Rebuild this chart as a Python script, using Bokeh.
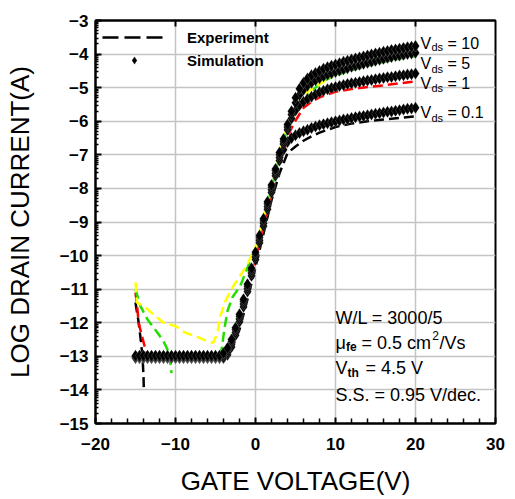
import math
from bokeh.plotting import figure
from bokeh.models import (FixedTicker, LinearAxis, Legend, LegendItem, Range1d)
from bokeh.core.properties import value
from bokeh.embed import file_html
from bokeh.resources import INLINE

NaN = float("nan")

# ---------------- data ----------------
vg = [-15, -14.5, -14, -13.5, -13, -12.5, -12, -11.5, -11, -10.5,
      -10, -9.5, -9, -8.5, -8, -7.5, -7, -6.5, -6, -5.5,
      -5, -4.5, -4, -3.5, -3, -2.5, -2, -1.5, -1, -0.5,
      0, 0.5, 1, 1.5, 2, 2.5, 3, 3.5, 4, 4.5,
      5, 5.5, 6, 6.5, 7, 7.5, 8, 8.5, 9, 9.5,
      10, 10.5, 11, 11.5, 12, 12.5, 13, 13.5, 14, 14.5,
      15, 15.5, 16, 16.5, 17, 17.5, 18, 18.5, 19, 19.5,
      20]

sim_vds01 = [-13.05, -13.05, -13.05, -13.05, -13.05, -13.05, -13.05, -13.05, -13.05, -13.05,
             -13.05, -13.05, -13.05, -13.05, -13.05, -13.05, -13.05, -13.05, -13.05, -13.05,
             -13.05, -13.05, -13.05, -12.95, -12.72, -12.37, -11.97, -11.52, -11.07, -10.6,
             -10.12, -9.62, -9.12, -8.62, -8.12, -7.62, -7.17, -6.85, -6.62, -6.5,
             -6.42, -6.35, -6.3, -6.25, -6.2, -6.16, -6.12, -6.09, -6.06, -6.03,
             -6.0, -5.98, -5.95, -5.93, -5.9, -5.88, -5.86, -5.84, -5.82, -5.8,
             -5.78, -5.76, -5.74, -5.72, -5.71, -5.69, -5.67, -5.65, -5.63, -5.62,
             -5.6]

sim_vds1 = [-13.02, -13.02, -13.02, -13.02, -13.02, -13.02, -13.02, -13.02, -13.02, -13.02,
            -13.02, -13.02, -13.02, -13.02, -13.02, -13.02, -13.02, -13.02, -13.02, -13.02,
            -13.02, -13.02, -13.02, -12.89, -12.64, -12.29, -11.89, -11.44, -10.99, -10.52,
            -10.04, -9.54, -9.04, -8.54, -8.04, -7.55, -7.08, -6.68, -6.25, -5.92,
            -5.68, -5.52, -5.42, -5.34, -5.27, -5.2, -5.14, -5.09, -5.05, -5.01,
            -4.98, -4.95, -4.92, -4.89, -4.87, -4.85, -4.83, -4.81, -4.79, -4.77,
            -4.75, -4.73, -4.71, -4.69, -4.68, -4.66, -4.64, -4.63, -4.61, -4.6,
            -4.58]

sim_vds5 = [-13.0, -13.0, -13.0, -13.0, -13.0, -13.0, -13.0, -13.0, -13.0, -13.0,
            -13.0, -13.0, -13.0, -13.0, -13.0, -13.0, -13.0, -13.0, -13.0, -13.0,
            -13.0, -13.0, -12.95, -12.81, -12.56, -12.21, -11.81, -11.36, -10.91, -10.44,
            -9.96, -9.46, -8.96, -8.46, -7.96, -7.47, -7.0, -6.6, -6.17, -5.8,
            -5.45, -5.22, -5.06, -4.94, -4.85, -4.78, -4.72, -4.66, -4.61, -4.57,
            -4.53, -4.49, -4.45, -4.42, -4.38, -4.35, -4.32, -4.29, -4.26, -4.23,
            -4.2, -4.17, -4.14, -4.11, -4.09, -4.06, -4.04, -4.02, -4.0, -3.98,
            -3.96]

sim_vds10 = [-12.98, -12.98, -12.98, -12.98, -12.98, -12.98, -12.98, -12.98, -12.98, -12.98,
             -12.98, -12.98, -12.98, -12.98, -12.98, -12.98, -12.98, -12.98, -12.98, -12.98,
             -12.98, -12.98, -12.9, -12.75, -12.5, -12.15, -11.75, -11.3, -10.85, -10.38,
             -9.9, -9.4, -8.9, -8.4, -7.9, -7.42, -6.93, -6.53, -6.1, -5.7,
             -5.3, -5.03, -4.85, -4.73, -4.63, -4.56, -4.5, -4.44, -4.39, -4.35,
             -4.31, -4.27, -4.23, -4.2, -4.16, -4.13, -4.1, -4.07, -4.04, -4.01,
             -3.98, -3.96, -3.93, -3.91, -3.88, -3.86, -3.84, -3.82, -3.8, -3.78,
             -3.76]

exp01_vg = [-15, -14.6, -14.3, -14.1, -14.0, -13.95, NaN, -13.9, -12, -10, -8, -6, -4.5,
            -4, -3, -2, -1, 0, 1, 2, 3, 3.5, 4, 5, 6, 7, 8, 10, 12, 14, 16, 18, 20]
exp_vds01 = [-11.4, -12.0, -12.6, -13.1, -13.6, -14.05, NaN, -13.1, -13.1, -13.1, -13.1, -13.1, -13.1,
             -13.05, -12.8, -12.2, -11.3, -10.35, -9.35, -8.35, -7.55, -7.25, -6.95, -6.75, -6.58,
             -6.45, -6.34, -6.17, -6.07, -6.0, -5.95, -5.9, -5.85]

exp1_vg = [-15, -14.8, -14.6, -14.2, -13.8, -13.7, -13.5, -10, -6, -4, -3, -2, -1, 0, 1,
           2, 3, 3.8, 4.3, 5, 6, 7, 8, 9, 10, 12, 14, 16, 18, 20]
exp_vds1 = [-11.1, -11.5, -12.0, -12.4, -12.75, -13.0, -13.05, -13.05, -13.05, -13.0, -12.7,
            -12.0, -11.1, -10.15, -9.15, -8.2, -7.3, -6.7, -6.3, -5.98, -5.6, -5.42, -5.29,
            -5.2, -5.12, -5.04, -4.98, -4.93, -4.87, -4.81]

exp5_vg = [-15, -14.4, -13.5, -12.25, -11.5, -11.0, -10.7, -10.5, NaN,
           -4.5, -4.2, -3.9, -3.5, -2.9, -1.9, -0.9, 0, 1, 2, 3, 4, 4.6, 5.5, 6.5, 7.5,
           8.5, 10, 12, 14, 16, 18, 20]
exp_vds5 = [-11.0, -11.5, -11.9, -12.3, -12.55, -12.8, -13.1, -13.5, NaN,
            -13.0, -12.75, -12.2, -11.65, -11.25, -10.9, -10.3, -9.8, -8.95, -8.0, -7.05,
            -6.2, -5.9, -5.58, -5.25, -5.0, -4.8, -4.64, -4.48, -4.35, -4.24, -4.14, -4.06]

exp10_vg = [-15, -14.8, -14, -12.5, -11.5, -10, -8.75, -7.5, -6, -5.3, -4.75, -4.4, -3.75,
            -2.75, -1.5, -0.9, 0, 1, 2, 3, 4, 5, 6, 6.5, 7, 7.5, 8, 9, 10, 12, 14, 16, 18, 20]
exp_vds10 = [-10.8, -11.4, -11.5, -11.8, -12.0, -12.1, -12.3, -12.4, -12.55, -12.6, -12.3,
             -11.8, -11.35, -10.9, -10.45, -10.2, -9.75, -8.85, -7.9, -6.95, -6.15, -5.6,
             -5.22, -5.12, -5.05, -4.98, -4.9, -4.75, -4.6, -4.4, -4.22, -4.08, -3.95, -3.85]

x_ticks = [-20, -10, 0, 10, 20, 30]
x_minor = [-18, -16, -14, -12, -8, -6, -4, -2, 2, 4, 6, 8, 12, 14, 16, 18, 22, 24, 26, 28]
y_ticks = [-15, -14, -13, -12, -11, -10, -9, -8, -7, -6, -5, -4, -3]
top_ticks = [-10, 0, 10, 20]

vds_values = ["= 10", "= 5", "= 1", "= 0.1"]
vds_label_y = [-3.685, -4.28, -4.875, -5.74]
vds_sub_y = [-3.80, -4.43, -5.02, -5.89]

exp_colors = ["black", "red", "#22dd00", "#ffff00"]

FONT = "Liberation Sans"

# ---------------- figure ----------------
p = figure(width=515, height=499, output_backend="svg", toolbar_location=None,
           x_range=Range1d(-20, 30), y_range=Range1d(-15, -3),
           min_border_left=95, min_border_right=20, min_border_top=20,
           min_border_bottom=76, x_axis_location=None, y_axis_location=None)
p.background_fill_color = "white"
p.border_fill_color = "white"
p.outline_line_color = "black"
p.outline_line_width = 2

p.xgrid.ticker = FixedTicker(ticks=top_ticks)
p.ygrid.ticker = FixedTicker(ticks=y_ticks)
for g in (p.xgrid, p.ygrid):
    g.grid_line_color = "#c4c4c4"
    g.grid_line_width = 1.5

minor_log = [d + math.log10(k) for d in range(-15, -3) for k in range(2, 10)]

left = LinearAxis(ticker=FixedTicker(ticks=y_ticks, minor_ticks=minor_log),
                  axis_label="LOG DRAIN CURRENT(A)")
bottom = LinearAxis(ticker=FixedTicker(ticks=x_ticks, minor_ticks=x_minor),
                    axis_label="GATE VOLTAGE(V)")
top = LinearAxis(ticker=FixedTicker(ticks=top_ticks),
                 major_label_overrides={t: "" for t in top_ticks})

for ax in (left, bottom, top):
    ax.axis_line_color = "black"
    ax.axis_line_width = 2
    ax.major_tick_line_color = "black"
    ax.major_tick_line_width = 2
    ax.minor_tick_line_color = "black"
    ax.minor_tick_line_width = 1.5
    ax.major_tick_in = 6
    ax.major_tick_out = 0
    ax.minor_tick_in = 3
    ax.minor_tick_out = 0
    ax.major_label_text_font = FONT
    ax.major_label_text_font_style = "bold"
    ax.major_label_text_font_size = "17px"
    ax.major_label_text_color = "black"
    ax.axis_label_text_font = FONT
    ax.axis_label_text_font_style = "normal"
    ax.axis_label_text_font_size = "26px"
    ax.axis_label_text_color = "black"

bottom.minor_tick_in = 5
left.major_label_standoff = 7
left.axis_label_standoff = 22
bottom.major_label_standoff = 14
bottom.axis_label_standoff = 13
top.minor_tick_line_color = None
top.major_label_standoff = 0

p.add_layout(left, "left")
p.add_layout(bottom, "below")
p.add_layout(top, "above")

# ---------------- experiment (dashed) ----------------
exp_sets = [(exp01_vg, exp_vds01), (exp1_vg, exp_vds1), (exp5_vg, exp_vds5), (exp10_vg, exp_vds10)]
exp_renderers = []
for (xs, ys), col in zip(exp_sets, exp_colors):
    exp_renderers.append(p.line(x=xs, y=ys, line_color=col, line_width=2.5, line_dash="10 5"))

# ---------------- simulation (diamonds) ----------------
sim_renderers = []
for ys in (sim_vds01, sim_vds1, sim_vds5, sim_vds10):
    sim_renderers.append(p.scatter(x=vg, y=ys, marker="diamond", size=12, fill_color="black",
                                   line_color="white", line_alpha=0.45, line_width=0.4))

# legend-only swatch (no data drawn)
legend_dash = p.line(x=[NaN], y=[NaN], line_color="black", line_width=2.5, line_dash="16 6")

# ---------------- legend ----------------
legend = Legend(items=[LegendItem(label="Experiment", renderers=[legend_dash]),
                       LegendItem(label="Simulation", renderers=[sim_renderers[0]])],
                location="top_left", margin=7, padding=8, glyph_width=64, glyph_height=20,
                label_height=20, spacing=3, label_standoff=21,
                background_fill_alpha=0, border_line_color=None,
                label_text_font=FONT, label_text_font_style="bold",
                label_text_font_size="15px", label_text_color="black")
p.add_layout(legend)

# ---------------- Vds labels ----------------
n = len(vds_values)
p.text(x=[20.625] * n, y=vds_label_y, text=["V"] * n, text_font=value(FONT),
       text_font_size="16px", text_baseline="alphabetic", text_color="black")
p.text(x=[22.0] * n, y=vds_sub_y, text=["ds"] * n, text_font=value(FONT),
       text_font_size="11px", text_baseline="alphabetic", text_color="black")
p.text(x=[24.0] * n, y=vds_label_y, text=vds_values, text_font=value(FONT),
       text_font_size="16px", text_baseline="alphabetic", text_color="black")

# ---------------- parameter box ----------------
main_txt = ["W/L = 3000/5", "\u03bc", "= 0.5 cm", "/Vs", "V", "= 4.5 V", "S.S. = 0.95 V/dec."]
main_x = [10.0, 10.0, 13.25, 23.0, 10.0, 13.75, 10.0]
main_y = [-11.87, -12.61, -12.61, -12.61, -13.36, -13.36, -14.16]
p.text(x=main_x, y=main_y, text=main_txt, text_font=value(FONT), text_font_size="18px",
       text_baseline="alphabetic", text_color="black")
sub_txt = ["fe", "th"]
sub_x = [11.3, 11.5]
sub_y = [-12.73, -13.51]
p.text(x=sub_x, y=sub_y, text=sub_txt, text_font=value(FONT), text_font_size="12px",
       text_font_style="bold", text_baseline="alphabetic", text_color="black")
p.text(x=[22.1], y=[-12.38], text=["2"], text_font=value(FONT), text_font_size="12px",
       text_baseline="alphabetic", text_color="black")

open("out.html", "w").write(file_html(p, INLINE))
